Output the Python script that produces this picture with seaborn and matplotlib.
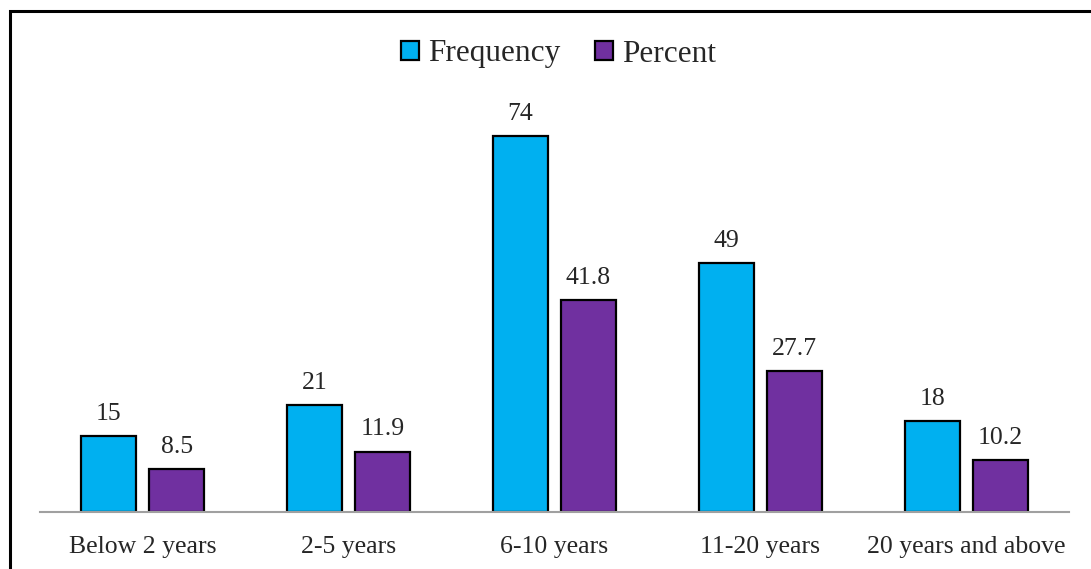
import matplotlib
matplotlib.use("Agg")
import matplotlib.pyplot as plt
from matplotlib.patches import Rectangle
import seaborn as sns
import pandas as pd

categories = ["Below 2 years", "2-5 years", "6-10 years", "11-20 years", "20 years and above"]
frequency = [15, 21, 74, 49, 18]
percent = [8.5, 11.9, 41.8, 27.7, 10.2]
series_names = ["Frequency", "Percent"]
colors = ["#00B0F0", "#7030A0"]

df = pd.DataFrame({
    "Experience": categories * 2,
    "Value": frequency + percent,
    "Series": [series_names[0]] * len(categories) + [series_names[1]] * len(categories),
})

sns.set_theme(style="white")
plt.rcParams["font.family"] = ["Liberation Serif", "DejaVu Serif"]

fig = plt.figure(figsize=(10.91, 5.69), dpi=100)
ax = fig.add_axes([40 / 1091, 57 / 569, 1029 / 1091, 406 / 569])

sns.barplot(data=df, x="Experience", y="Value", hue="Series", order=categories,
            hue_order=series_names, palette=colors, saturation=1, width=0.66, gap=0.19,
            edgecolor="black", linewidth=1.6, ax=ax, legend=True)

for container in ax.containers:
    ax.bar_label(container, fmt="%g", padding=8, fontsize=18.5)

ax.set_ylim(0, 80)
ax.set_xlim(-0.5, len(categories) - 0.5)
ax.set_xlabel("")
ax.set_ylabel("")
ax.set_yticks([])
ax.tick_params(axis="x", labelsize=18.5, pad=17, length=0)
for side in ["top", "right", "left"]:
    ax.spines[side].set_visible(False)
ax.spines["bottom"].set_color("#A0A0A0")
ax.spines["bottom"].set_linewidth(1.5)

handles, labels = ax.get_legend_handles_labels()
ax.legend_.remove()
fig.legend(handles, labels, loc="center", bbox_to_anchor=(0.5 + 13 / 1091, 1 - 54 / 569),
           ncol=2, frameon=False, fontsize=22.5, handlelength=0.58, handleheight=0.58,
           handletextpad=0.3, columnspacing=1.1)

fig.add_artist(Rectangle((10 / 1091, -0.1), 1.2, 1.1 - 11 / 569,
                         transform=fig.transFigure, fill=False,
                         edgecolor="black", linewidth=2.2, clip_on=False))

fig.savefig("out.png", dpi=100)
